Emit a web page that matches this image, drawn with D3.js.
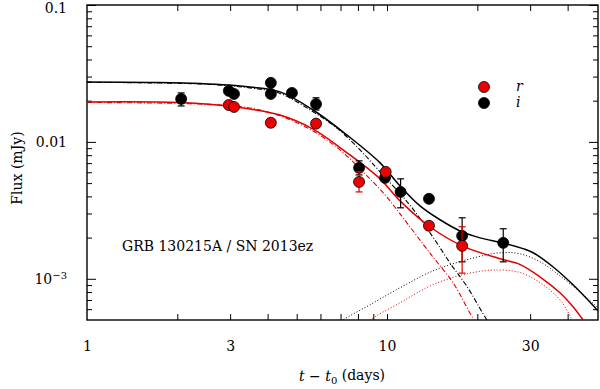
<!DOCTYPE html>
<html>
<head>
<meta charset="utf-8">
<script src="https://cdn.jsdelivr.net/npm/d3@7"></script>
<style>
  body { margin: 0; background: #fff; }
  text { font-family: "DejaVu Serif", serif; fill: #000; }
</style>
</head>
<body>
<script>
// Photometry, i band (black)
const iTime = [2.06, 2.97, 3.09, 4.10, 4.10, 4.82, 5.80, 8.07, 9.85, 11.1, 13.8, 17.8, 24.4];
const iFlux = [0.0206, 0.0236, 0.0224, 0.0270, 0.0224, 0.0228, 0.0189, 0.00646, 0.00546, 0.00431, 0.00384, 0.00206, 0.00183];
const iLow  = [0.0183, null, null, null, null, null, 0.0171, 0.00574, null, 0.00330, null, 0.00133, 0.00133];
const iHigh = [0.0228, null, null, null, null, null, 0.0210, 0.00727, null, 0.00537, null, 0.00279, 0.00232];

// Photometry, r band (red)
const rTime = [2.97, 3.09, 4.10, 5.80, 8.07, 9.90, 13.8, 17.8];
const rFlux = [0.0186, 0.0180, 0.0138, 0.0136, 0.00510, 0.00604, 0.00244, 0.00174];
const rLow  = [null, null, null, null, 0.00431, null, null, 0.00110];
const rHigh = [null, null, null, null, 0.00604, null, null, 0.00240];

// Model curves: total, afterglow, supernova
const iTotT = [1, 1.62, 2.38, 3.49, 4.40, 5.67, 7.36, 9.48, 11.05, 12.88, 15.02, 17.51, 20.42, 24.36, 28.4, 30.7, 35.8, 41.7, 50.5];
const iTotF = [0.0274, 0.0272, 0.0267, 0.0252, 0.0232, 0.0171, 0.0112, 0.00703, 0.00477, 0.00341, 0.00270, 0.00224, 0.00199, 0.00183, 0.00166, 0.00155, 0.00122, 0.000904, 0.000584];
const iAgT = [1, 2.38, 3.49, 4.40, 5.67, 6.81, 8.13, 9.48, 11.9, 14.2, 16.2, 18.5, 21.5, 23.0];
const iAgF = [0.0272, 0.0265, 0.0248, 0.0226, 0.0166, 0.0126, 0.00874, 0.00604, 0.00347, 0.00203, 0.00131, 0.000874, 0.000502, 0.00041];
const iSnT = [6.5, 7.13, 8.78, 11.05, 14.2, 18.5, 23.8, 27.8, 32.4, 37.7, 44.0, 50.5];
const iSnF = [0.00044, 0.000502, 0.000646, 0.000860, 0.00114, 0.00138, 0.00155, 0.00152, 0.00133, 0.00105, 0.000804, 0.000614];

const rTotT = [1, 2.04, 3.11, 4.40, 5.67, 7.36, 9.48, 11.05, 13.9, 17.8, 23.8, 27.8, 32.4, 37.7, 41.7, 45.0, 47.0];
const rTotF = [0.0196, 0.0194, 0.0180, 0.0157, 0.0124, 0.00832, 0.00537, 0.00371, 0.00240, 0.00174, 0.00140, 0.00127, 0.00103, 0.000791, 0.000625, 0.000502, 0.00044];
const rAgT = [1, 2.38, 3.49, 4.40, 5.67, 6.97, 8.32, 9.85, 11.05, 14.2, 16.6, 19.5, 21.0];
const rAgF = [0.0194, 0.0189, 0.0177, 0.0155, 0.0120, 0.00874, 0.00604, 0.00410, 0.00298, 0.00145, 0.000935, 0.000502, 0.00041];
const rSnT = [8.0, 8.78, 11.05, 14.2, 18.5, 23.3, 27.8, 32.4, 37.7, 41.4, 43.0];
const rSnF = [0.00043, 0.000502, 0.000668, 0.000904, 0.00109, 0.00116, 0.00111, 0.000935, 0.000703, 0.000502, 0.00043];

// Ticks
const xMinor = [2, 3, 4, 5, 6, 7, 8, 9, 10, 20, 30, 40];
const xLabels = [1, 3, 10, 30];
const yMajor = [0.1, 0.01, 0.001];
const yMinor = [6e-4, 7e-4, 8e-4, 9e-4, 2e-3, 3e-3, 4e-3, 5e-3, 6e-3, 7e-3, 8e-3, 9e-3,
                0.02, 0.03, 0.04, 0.05, 0.06, 0.07, 0.08, 0.09];

const W = 600, H = 389;
const pLeft = 87, pRight = 598, pTop = 5, pBottom = 320;

const svg = d3.select("body").append("svg")
    .attr("width", W)
    .attr("height", H);

const x = d3.scaleLog().domain([1, 50.5]).range([pLeft, pRight]);
const y = d3.scaleLog().domain([5e-4, 0.1]).range([pBottom, pTop]);

svg.append("clipPath").attr("id", "clip")
  .append("rect")
    .attr("x", pLeft).attr("y", pTop)
    .attr("width", pRight - pLeft).attr("height", pBottom - pTop);

// Axes (ticks point inward)
svg.append("g")
    .attr("transform", `translate(0,${pBottom})`)
    .call(d3.axisBottom(x).tickValues(xMinor).tickSize(-6).tickFormat(""));
svg.append("g")
    .attr("transform", `translate(0,${pBottom})`)
    .call(d3.axisBottom(x).tickValues(xLabels).tickSize(0).tickPadding(21).tickFormat(d3.format("d")));
svg.append("g")
    .attr("transform", `translate(0,${pTop})`)
    .call(d3.axisTop(x).tickValues(xMinor).tickSize(-6).tickFormat(""));

svg.append("g")
    .attr("transform", `translate(${pLeft},0)`)
    .call(d3.axisLeft(y).tickValues(yMinor).tickSize(-5).tickFormat(""));
const yLab = svg.append("g")
    .attr("transform", `translate(${pLeft},0)`)
    .call(d3.axisLeft(y).tickValues(yMajor).tickSize(-9).tickPadding(20)
        .tickFormat(d => d === 0.001 ? "" : d3.format("")(d)));
svg.append("g")
    .attr("transform", `translate(${pRight},0)`)
    .call(d3.axisRight(y).tickValues(yMinor).tickSize(-5).tickFormat(""));
svg.append("g")
    .attr("transform", `translate(${pRight},0)`)
    .call(d3.axisRight(y).tickValues(yMajor).tickSize(-9).tickFormat(""));

svg.selectAll(".domain").remove();
svg.selectAll(".tick line").attr("stroke", "#000").attr("stroke-width", 1);
svg.selectAll(".tick text").attr("font-family", "DejaVu Serif").attr("font-size", 14).attr("fill", "#000");

// top label sits a little lower so it stays on the page
yLab.selectAll(".tick").filter(d => d === 0.1).select("text").attr("dy", "0.55em");

// 10^-3 label with superscript
const lab3 = yLab.selectAll(".tick").filter(d => d === 0.001).select("text");
lab3.append("tspan").text("10");
lab3.append("tspan").attr("dy", "-0.45em").attr("font-size", 10).text("\u22123");

// Frame
svg.append("rect")
    .attr("x", pLeft).attr("y", pTop)
    .attr("width", pRight - pLeft).attr("height", pBottom - pTop)
    .attr("fill", "none").attr("stroke", "#000").attr("stroke-width", 1.4);

// Curves
const line = d3.line()
    .x(d => x(d[0]))
    .y(d => y(d[1]))
    .curve(d3.curveCatmullRom.alpha(0.5));

const curves = [
  { t: iSnT, f: iSnF, color: "#000", dash: "1,2", w: 1 },
  { t: rSnT, f: rSnF, color: "#e00000", dash: "1,2", w: 1 },
  { t: iAgT, f: iAgF, color: "#000", dash: "5,2,1,2", w: 1.1 },
  { t: rAgT, f: rAgF, color: "#e00000", dash: "5,2,1,2", w: 1.1 },
  { t: iTotT, f: iTotF, color: "#000", dash: null, w: 1.5 },
  { t: rTotT, f: rTotF, color: "#e00000", dash: null, w: 1.5 }
];

const curveG = svg.append("g").attr("clip-path", "url(#clip)");
curves.forEach(c => {
  curveG.append("path")
      .datum(c.t.map((t, k) => [t, c.f[k]]))
      .attr("d", line)
      .attr("fill", "none")
      .attr("stroke", c.color)
      .attr("stroke-width", c.w)
      .attr("stroke-dasharray", c.dash);
});

// Points with error bars
function drawSeries(times, flux, lo, hi, fill, barColor) {
  const g = svg.append("g");
  times.forEach((t, k) => {
    if (lo[k] == null) return;
    const cx = x(t);
    g.append("line").attr("x1", cx).attr("x2", cx)
        .attr("y1", y(lo[k])).attr("y2", y(hi[k]))
        .attr("stroke", barColor).attr("stroke-width", 1.2);
    [lo[k], hi[k]].forEach(v => {
      g.append("line").attr("x1", cx - 3.5).attr("x2", cx + 3.5)
          .attr("y1", y(v)).attr("y2", y(v))
          .attr("stroke", barColor).attr("stroke-width", 1.2);
    });
  });
  g.selectAll("circle")
    .data(times.map((t, k) => [t, flux[k]]))
    .enter().append("circle")
      .attr("cx", d => x(d[0]))
      .attr("cy", d => y(d[1]))
      .attr("r", 5.5)
      .attr("fill", fill)
      .attr("stroke", "#000")
      .attr("stroke-width", 0.8);
}

drawSeries(iTime, iFlux, iLow, iHigh, "#000", "#000");
drawSeries(rTime, rFlux, rLow, rHigh, "#ee0000", "#e00000");

// Legend
const legend = [
  { name: "r", fill: "#ee0000", yy: 87 },
  { name: "i", fill: "#000", yy: 103 }
];
legend.forEach(l => {
  svg.append("circle").attr("cx", 484).attr("cy", l.yy).attr("r", 5.5)
      .attr("fill", l.fill).attr("stroke", "#000").attr("stroke-width", 0.8);
  svg.append("text").attr("x", 516).attr("y", l.yy + 4)
      .attr("font-size", 14).attr("font-style", "italic").text(l.name);
});

// Annotation
svg.append("text").attr("x", 122).attr("y", 251)
    .attr("font-size", 14).text("GRB 130215A / SN 2013ez");

// Axis titles
svg.append("text")
    .attr("transform", "translate(22,168) rotate(-90)")
    .attr("text-anchor", "middle")
    .attr("font-size", 14)
    .text("Flux (mJy)");

const xt = svg.append("text").attr("x", 342).attr("y", 381)
    .attr("text-anchor", "middle").attr("font-size", 14);
xt.append("tspan").attr("font-style", "italic").text("t");
xt.append("tspan").text(" \u2212 ");
xt.append("tspan").attr("font-style", "italic").text("t");
xt.append("tspan").attr("font-size", 10).attr("dy", "0.3em").text("0");
xt.append("tspan").attr("dy", "-0.3em").text(" (days)");
</script>
</body>
</html>
